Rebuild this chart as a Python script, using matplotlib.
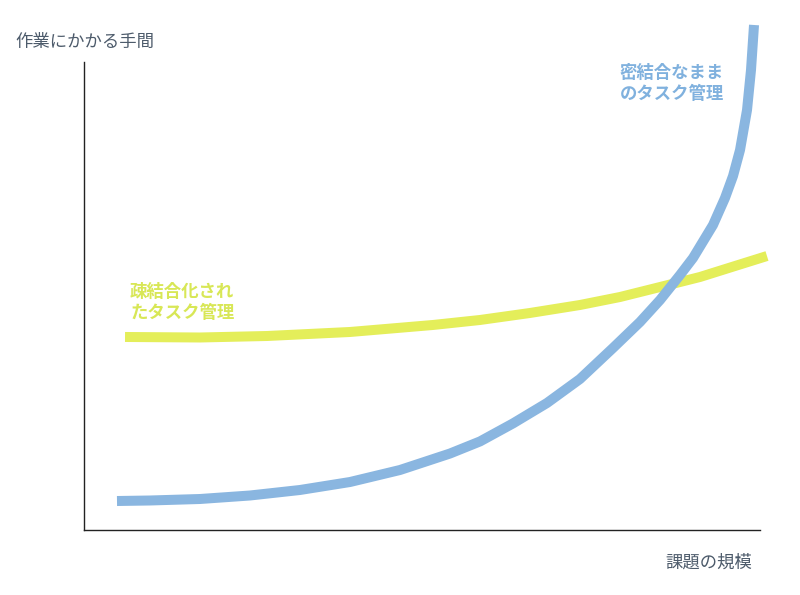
import matplotlib.pyplot as plt

plt.rcParams['font.family'] = ['Noto Sans CJK JP', 'DejaVu Sans']

# 密結合なままのタスク管理 (blue)
tight_x = [4.81, 9.62, 16.91, 24.20, 31.49, 38.78, 46.06, 53.35, 57.73, 62.54, 67.49, 72.30,
           77.11, 81.05, 83.97, 86.88, 88.78, 91.69, 93.44, 94.61, 95.63, 96.65, 97.23, 97.67]
tight_y = [5.63, 5.73, 6.02, 6.70, 7.77, 9.32, 11.65, 14.85, 17.20, 20.70, 24.66, 29.32,
           35.34, 40.39, 44.66, 49.51, 52.82, 59.22, 64.47, 68.74, 73.79, 81.55, 89.32, 98.06]

# 疎結合化されたタスク管理 (yellow)
loose_x = [5.98, 16.91, 26.68, 38.78, 50.87, 57.73, 65.01, 72.30, 78.13, 83.97, 89.80, 94.90, 99.56]
loose_y = [37.48, 37.38, 37.67, 38.45, 39.81, 40.78, 42.14, 43.69, 45.24, 47.18, 49.13, 51.26, 53.20]

blue = '#8ab6e0'
yellow = '#e4ee5a'
label_col = '#4d5b6b'

W, H = 800, 595
fig = plt.figure(figsize=(W / 100, H / 100), dpi=100)
# axes box in pixels: x 84..770, y 15..530
ax = fig.add_axes([84 / W, (H - 530) / H, (770 - 84) / W, (530 - 15) / H])
ax.set_xlim(0, 100)
ax.set_ylim(0, 100)

ax.plot(loose_x, loose_y, color=yellow, lw=7.2, solid_capstyle='butt', solid_joinstyle='round', zorder=2)
ax.plot(tight_x, tight_y, color=blue, lw=7.2, solid_capstyle='butt', solid_joinstyle='round', zorder=3)

for s in ['top', 'right']:
    ax.spines[s].set_visible(False)
ax.spines['left'].set_bounds(0, 90.9)
ax.spines['bottom'].set_bounds(0, 98.5)
for s in ['left', 'bottom']:
    ax.spines[s].set_color('#222222')
    ax.spines[s].set_linewidth(1.0)
ax.set_xticks([])
ax.set_yticks([])

fig.text(15 / W, 1 - 42 / H, '作業にかかる手間', fontsize=12.5, color=label_col, va='center', ha='left')
fig.text(752 / W, 1 - 563 / H, '課題の規模', fontsize=12.5, color=label_col, va='center', ha='right')

ax.text(78.1, 86.7, '密結合なまま\nのタスク管理', fontsize=12.5, color='#80b1de',
        va='center', ha='left', linespacing=1.25, fontweight='bold')
ax.text(6.7, 44.2, '疎結合化され\nたタスク管理', fontsize=12.5, color='#d8e756',
        va='center', ha='left', linespacing=1.25, fontweight='bold')

fig.savefig('out.png', dpi=100, facecolor='white')
